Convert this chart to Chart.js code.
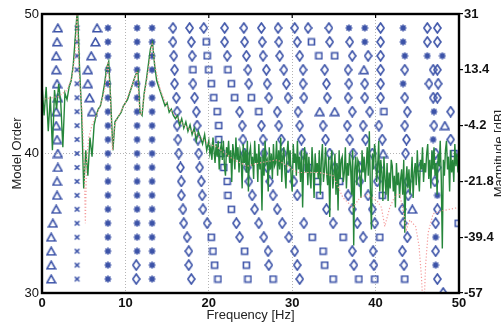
<!DOCTYPE html>
<html>
<head>
<meta charset="utf-8">
<script src="https://cdn.jsdelivr.net/npm/chart.js@4/dist/chart.umd.min.js"></script>
<style>
  html, body { margin: 0; padding: 0; background: #fff; }
  #wrap { width: 501px; height: 325px; }
</style>
</head>
<body>
<div id="wrap"><canvas id="stabChart"></canvas></div>
<script>
// Stabilization diagram: poles per model order (left axis) over the measured spectrum (right axis, dB)

const modelOrders = [49, 48, 47, 46, 45, 44, 43, 42, 41, 40, 39, 38, 37, 36, 35, 34, 33, 32, 31, 30];

// pole frequencies [Hz] per model order, one list per marker type (same row order as modelOrders)
const triangleFreqs = [
    [1.9, 6.6], [1.8, 6.4], [1.7, 5.9], [1.7, 5.5, 38.6], [1.8, 5.5], [1.9, 5.7], [1.7, 6.0, 33.3, 35.1],
    [1.7, 48.3], [1.8], [1.9, 40.9], [1.9, 45.3], [1.8], [1.8], [1.7, 44.4], [1.3], [1.1], [1.1], [1.1], [1.1], []
];
const crossFreqs = [
    [4.2], [4.2], [4.2], [4.2], [4.2], [4.2], [4.2], [4.2], [4.2], [4.2],
    [4.2], [4.2], [4.2], [4.2], [4.2], [4.2], [4.2], [4.2], [4.2], []
];
const starFreqs = [
    [7.9, 11.4, 13.2, 36.8, 38.7, 43.3], [7.9, 11.4, 13.2, 38.7, 43.3], [7.9, 11.4, 13.2, 43.5, 46.2, 48.0],
    [7.9, 11.4, 13.2], [7.9, 11.4, 13.2, 43.3], [7.9, 11.4, 13.2], [7.9, 11.4, 13.2, 47.0], [7.9, 11.4, 13.2],
    [7.9, 11.4, 13.2, 46.9], [7.9, 11.4, 13.2], [7.9, 11.4, 13.2], [7.9, 11.4, 13.2], [7.9, 11.4, 13.2, 47.4],
    [7.9, 11.4, 13.2], [7.9, 11.4, 13.2], [7.9, 11.4, 13.2, 47.2], [7.9, 11.4, 13.2], [7.9, 13.2, 47.2], [7.9, 13.2], []
];
const diamondFreqs = [
    [15.7, 17.7, 19.4, 21.9, 24.2, 26.3, 28.3, 30.3, 31.9, 34.4, 40.6, 46.2, 47.4],
    [15.7, 17.9, 21.9, 24.3, 26.4, 28.4, 30.6, 34.5, 36.9, 40.6, 46.2, 47.4],
    [15.8, 18.0, 22.2, 24.5, 26.5, 28.5, 30.9, 37.2, 39.1, 40.6],
    [15.9, 24.7, 26.9, 29.0, 31.3, 33.9, 36.7, 40.6, 43.5, 46.9, 47.4],
    [15.9, 18.1, 24.8, 27.0, 29.3, 31.3, 34.1, 36.8, 38.7, 40.6, 46.4, 47.5],
    [16.1, 18.3, 27.2, 29.5, 31.4, 34.2, 36.7, 38.7, 40.6, 43.5, 46.9, 47.4],
    [16.2, 18.5, 23.7, 28.2, 30.7, 37.2, 39.3, 43.8, 49.0],
    [16.2, 18.6, 24.0, 26.3, 28.4, 30.9, 33.7, 36.6, 38.5, 40.4, 43.5, 47.0],
    [16.3, 18.7, 24.1, 26.5, 28.7, 31.1, 34.0, 36.9, 38.8, 40.8, 43.7, 49.0],
    [16.4, 18.8, 24.3, 26.6, 28.9, 31.3, 34.5, 37.3, 39.6, 43.6, 47.2],
    [16.6, 18.9, 24.6, 27.0, 29.5, 35.1, 38.1, 40.3, 47.4],
    [16.7, 19.1, 24.8, 27.3, 30.2, 38.1, 40.2, 43.8, 47.1],
    [16.7, 19.2, 25.2, 27.7, 30.6, 36.7, 39.1, 43.9],
    [16.9, 19.3, 25.5, 28.2, 34.1, 37.2, 39.6, 43.2, 47.4],
    [17.0, 19.8, 23.3, 26.0, 28.8, 31.4, 34.9, 37.8, 39.9, 43.3, 47.2],
    [17.4, 23.7, 26.6, 29.6, 38.5, 43.8],
    [17.6, 27.1, 30.3, 37.2, 39.7, 43.2, 47.2],
    [11.3, 17.6, 27.2, 30.6, 37.4, 39.8, 43.4],
    [11.3, 17.9, 30.9, 47.4],
    [48.1]
];
const squareFreqs = [
    [], [19.7, 32.3], [19.8, 33.2, 35.1], [18.1, 20.0, 22.3], [20.3, 22.7], [20.6, 23.1, 25.1], [21.0, 26.0, 41.0],
    [21.2], [21.2], [21.5, 49.4], [21.8, 31.9], [22.2, 33.0, 35.7], [22.3, 33.3, 40.8], [22.7], [49.9],
    [20.3, 32.4, 36.1, 40.5], [20.5, 24.3, 33.7], [20.7, 24.5, 33.9], [21.1, 24.7, 27.7, 34.9, 38.0, 39.9, 43.5], []
];

// measured spectrum [dB]: 0 - 19.75 Hz every 0.25 Hz, then 20 - 50 Hz every 0.125 Hz
const lowBandStep = 0.25;
const lowBandDb = [
    9, -1, 8, -6, 5, -12, 7, 1, 9, 3, -11, 6, 4, 8, 10, 15,
    24, 33, 14, 0, -24, -12, -20, -8, -14, -4, -1, 1, 2, 5, 9, 14,
    16, 3, -12, -3, -2, -1, 0, 2, 3, 4, 6, 8, 10, 12, 13, 0,
    -1, 6, 10, 15, 20, 22, 15, 10, 8, 6, 4, 2, 3, 0, 1, -1,
    -2, -1, -4, -2, -5, -3, -6, -4, -7, -5, -9, -6, -8, -10, -7, -12
];
const highBandStart = 20;
const highBandStep = 0.125;
const highBandDb = [
    -9, -13, -11, -15, -8, -12, -16, -10,
    -14, -9, -18, -12, -10, -15, -9, -17,
    -20, -11, -14, -9, -16, -12, -22, -10,
    -13, -18, -8, -15, -11, -19, -12, -14,
    -24, -10, -16, -12, -19, -9, -25, -13,
    -11, -17, -14, -21, -9, -16, -13, -22,
    -10, -18, -14, -31, -12, -20, -9, -16,
    -15, -25, -11, -18, -13, -21, -10, -17,
    -16, -9, -20, -12, -18, -8, -22, -14,
    -11, -19, -24, -13, -9, -17, -12, -21,
    -25, -10, -16, -13, -20, -9, -18, -14,
    -22, -12, -30, -15, -11, -19, -13, -23,
    -14, -20, -24, -11, -17, -27, -13, -19,
    -16, -21, -12, -26, -15, -10, -22, -18,
    -11, -19, -23, -14, -33, -17, -12, -24,
    -20, -13, -26, -16, -31, -12, -21, -15,
    -14, -22, -19, -11, -24, -16, -20, -13,
    -17, -26, -12, -42, -18, -14, -23, -15,
    -16, -21, -27, -12, -19, -14, -22, -17,
    -11, -20, -6, -24, -37, -13, -18, -10,
    -13, -22, -17, -9, -25, -15, -19, -28,
    -14, -21, -26, -16, -28, -19, -24, -15,
    -17, -25, -20, -30, -16, -23, -19, -27,
    -21, -18, -26, -15, -38, -22, -17, -24,
    -18, -26, -21, -14, -27, -19, -16, -23,
    -12, -20, -25, -15, -18, -11, -22, -16,
    -19, -13, -10, -21, -15, -24, -12, -18,
    -11, -20, -16, -26, -13, -17, -9, -21,
    -43, -15, -20, -12, -9, -18, -14, -25,
    -12, -19, -15, -22, -10, -17, -13, -19,
    -16
];

// identified model response [dB]
const modelFreqs = [
    0, 1, 2, 3, 3.6, 4.0, 4.2, 4.45, 4.8, 5.05, 5.2, 5.35, 5.6, 6.0, 6.5, 7.0, 7.5, 7.9, 8.2, 8.45,
    8.7, 9.2, 10, 11, 11.4, 11.7, 11.9, 12.3, 12.8, 13.2, 13.6, 14.2, 15, 16, 17, 18, 19, 20, 21, 22,
    23, 24.6, 26, 28.2, 29.5, 30.6, 32, 33.3, 34.9, 36.1, 37.3, 38.1, 39, 40.2, 40.7, 41.1, 41.7, 42.4,
    42.9, 43.3, 43.7, 44.1, 44.8, 45.2, 45.5, 45.75, 46.0, 46.3, 46.9, 48.1, 50
];
const modelDb = [
    4, 4.5, 5, 7, 11, 19, 31, 12, 0, -14, -35, -15, -8, -4, -1, 2, 7, 16, 5, -12,
    -4, -1, 3, 10, 13, 1, -1, 6, 14, 22, 14, 7, 2, -1, -4, -6, -8, -10, -11, -13,
    -15, -17, -16, -15, -17, -19, -19, -19, -20, -27, -30, -27, -26, -28, -30, -36, -30, -26,
    -26, -31, -37, -34, -36, -42, -52, -65, -48, -38, -32, -31, -30
];

const magnitudeTicks = [-57, -39.4, -21.8, -4.2, 13.4, 31];

const POLE_COLOR = "#3c53a8";
const FONT = "'Liberation Sans', Arial, Helvetica, sans-serif";

// small canvases used as point styles
function makeMarker(w, h, draw) {
    const c = document.createElement("canvas");
    c.width = w;
    c.height = h;
    const g = c.getContext("2d");
    g.strokeStyle = POLE_COLOR;
    g.lineWidth = 1.6;
    g.beginPath();
    draw(g);
    g.stroke();
    return c;
}

const markers = {
    triangle: makeMarker(11, 10, (g) => { g.moveTo(5.5, 1.2); g.lineTo(9.8, 8.8); g.lineTo(1.2, 8.8); g.closePath(); }),
    cross: makeMarker(7, 7, (g) => { g.moveTo(1.2, 1.2); g.lineTo(5.8, 5.8); g.moveTo(5.8, 1.2); g.lineTo(1.2, 5.8); }),
    star: makeMarker(8, 8, (g) => {
        g.moveTo(4, 0.6); g.lineTo(4, 7.4);
        g.moveTo(0.6, 4); g.lineTo(7.4, 4);
        g.moveTo(1.5, 1.5); g.lineTo(6.5, 6.5);
        g.moveTo(6.5, 1.5); g.lineTo(1.5, 6.5);
    }),
    diamond: makeMarker(9, 12, (g) => { g.moveTo(4.5, 1); g.lineTo(8, 6); g.lineTo(4.5, 11); g.lineTo(1, 6); g.closePath(); }),
    square: makeMarker(9, 9, (g) => { g.rect(1.5, 1.5, 6, 6); })
};

function polePoints(freqRows) {
    return freqRows.flatMap((row, i) => row.map((f) => ({ x: f, y: modelOrders[i] })));
}

function poleDataset(freqRows, style) {
    return {
        data: polePoints(freqRows),
        pointStyle: style,
        pointRadius: 4,
        pointHoverRadius: 4,
        showLine: false,
        yAxisID: "y",
        order: 2
    };
}

const spectrumPoints = [
    ...lowBandDb.map((v, i) => ({ x: i * lowBandStep, y: v })),
    ...highBandDb.map((v, i) => ({ x: highBandStart + i * highBandStep, y: v }))
];

// box around the plot, inner ticks on top edge, right-hand axis label
const axesFrame = {
    id: "axesFrame",
    afterDatasetsDraw(chart) {
        const { ctx, chartArea: a, scales } = chart;
        ctx.save();
        ctx.strokeStyle = "#000";
        ctx.lineWidth = 2.4;
        ctx.strokeRect(a.left, a.top, a.right - a.left, a.bottom - a.top);
        ctx.lineWidth = 1.2;
        ctx.beginPath();
        scales.x.ticks.forEach((t) => {
            const px = scales.x.getPixelForValue(t.value);
            ctx.moveTo(px, a.top);
            ctx.lineTo(px, a.top + 4);
        });
        ctx.stroke();
        ctx.translate(493, (a.top + a.bottom) / 2);
        ctx.rotate(-Math.PI / 2);
        ctx.font = "13px " + FONT;
        ctx.fillStyle = "#222";
        ctx.textAlign = "center";
        ctx.textBaseline = "top";
        ctx.fillText("Magnitude [dB]", 0, 0);
        ctx.restore();
    }
};

const gridStyle = { color: "#b4b4b4", lineWidth: 1, drawTicks: false };
const gridBorder = { display: false, dash: [1, 2] };

new Chart(document.getElementById("stabChart"), {
    type: "scatter",
    data: {
        datasets: [
            {
                data: modelFreqs.map((f, i) => ({ x: f, y: modelDb[i] })),
                showLine: true,
                borderColor: "#f49b9b",
                borderWidth: 1.2,
                borderDash: [1.2, 2],
                pointRadius: 0,
                yAxisID: "y2",
                order: 0
            },
            {
                data: spectrumPoints,
                showLine: true,
                borderColor: "#26863b",
                borderWidth: 1.4,
                pointRadius: 0,
                yAxisID: "y2",
                order: 1
            },
            poleDataset(triangleFreqs, markers.triangle),
            poleDataset(crossFreqs, markers.cross),
            poleDataset(starFreqs, markers.star),
            poleDataset(diamondFreqs, markers.diamond),
            poleDataset(squareFreqs, markers.square)
        ]
    },
    options: {
        responsive: true,
        maintainAspectRatio: false,
        animation: false,
        layout: { padding: { top: 14, left: 0, right: 0, bottom: 0 } },
        plugins: { legend: { display: false }, tooltip: { enabled: false } },
        scales: {
            x: {
                type: "linear",
                min: 0,
                max: 50,
                afterFit: (s) => { s.height = 32; },
                ticks: { stepSize: 10, padding: 3, color: "#111", font: { family: FONT, size: 13, weight: "bold" } },
                grid: gridStyle,
                border: gridBorder,
                title: { display: true, text: "Frequency [Hz]", color: "#222", font: { family: FONT, size: 13 }, padding: { top: 0, bottom: 1.4 } }
            },
            y: {
                type: "linear",
                position: "left",
                min: 30,
                max: 50,
                afterFit: (s) => { s.width = 42; },
                ticks: { stepSize: 10, padding: 3, color: "#111", font: { family: FONT, size: 13 } },
                grid: gridStyle,
                border: gridBorder,
                title: { display: true, text: "Model Order", color: "#222", font: { family: FONT, size: 13 }, padding: { top: 9.5, bottom: 0 } }
            },
            y2: {
                type: "linear",
                position: "right",
                min: -57,
                max: 31,
                afterFit: (s) => { s.width = 42; },
                afterBuildTicks: (s) => { s.ticks = magnitudeTicks.map((v) => ({ value: v })); },
                ticks: { padding: 1, color: "#111", font: { family: FONT, size: 13, weight: "bold" }, callback: (v) => String(v) },
                grid: { drawOnChartArea: false, drawTicks: true, tickLength: 4, color: "#000", lineWidth: 1.2 },
                border: { display: false }
            }
        }
    },
    plugins: [axesFrame]
});
</script>
</body>
</html>
